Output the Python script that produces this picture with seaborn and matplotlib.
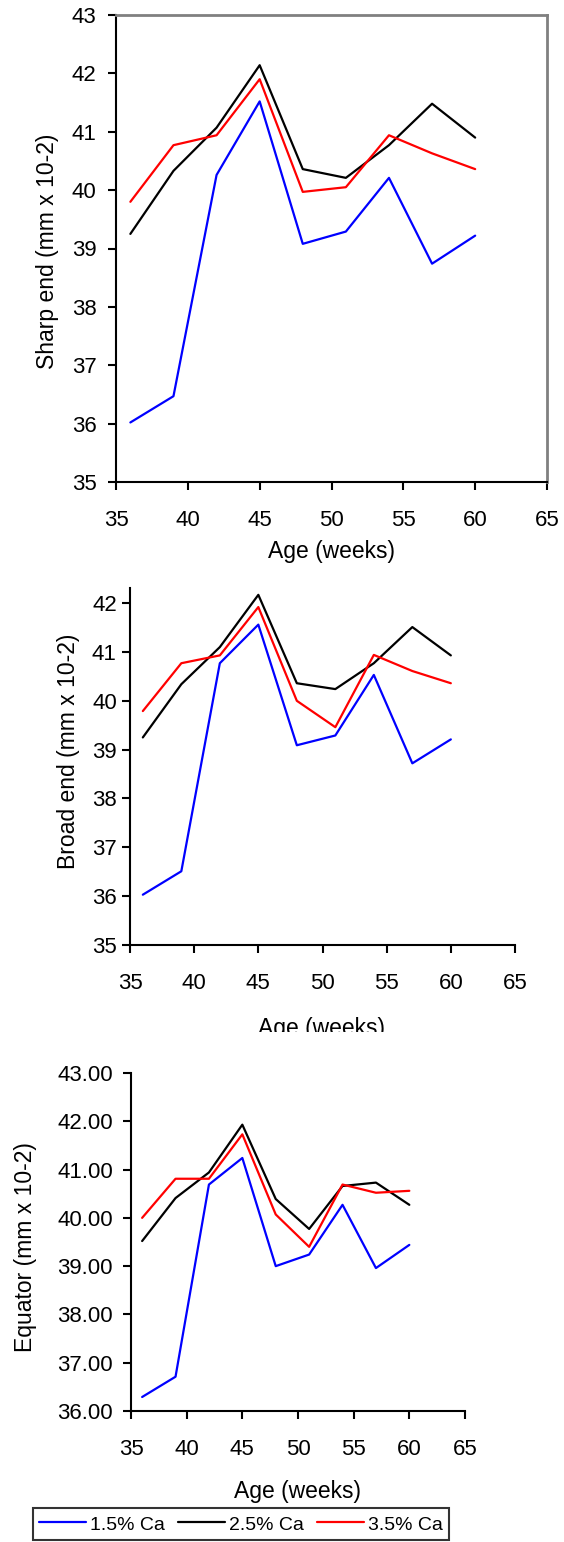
import numpy as np
import pandas as pd
import matplotlib
matplotlib.use("Agg")
import matplotlib.pyplot as plt
import seaborn as sns
from matplotlib.ticker import FormatStrFormatter, MultipleLocator
from matplotlib.transforms import Bbox, TransformedBbox

# ---------------- data ----------------
age = [36, 39, 42, 45, 48, 51, 54, 57, 60]
groups = ["1.5% Ca", "2.5% Ca", "3.5% Ca"]

sharp_15 = [36.02, 36.47, 40.26, 41.52, 39.08, 39.29, 40.21, 38.74, 39.22]
sharp_25 = [39.25, 40.33, 41.07, 42.14, 40.36, 40.21, 40.77, 41.48, 40.90]
sharp_35 = [39.80, 40.77, 40.94, 41.90, 39.97, 40.05, 40.94, 40.63, 40.36]

broad_15 = [36.03, 36.51, 40.77, 41.56, 39.09, 39.29, 40.53, 38.72, 39.21]
broad_25 = [39.25, 40.34, 41.10, 42.17, 40.36, 40.24, 40.77, 41.51, 40.93]
broad_35 = [39.79, 40.77, 40.93, 41.92, 40.00, 39.46, 40.94, 40.61, 40.36]

equator_15 = [36.29, 36.71, 40.69, 41.24, 39.00, 39.24, 40.27, 38.96, 39.44]
equator_25 = [39.52, 40.41, 40.94, 41.93, 40.39, 39.77, 40.66, 40.73, 40.27]
equator_35 = [40.00, 40.81, 40.81, 41.73, 40.07, 39.40, 40.69, 40.52, 40.56]

xlabel = "Age (weeks)"
ylabels = ["Sharp end (mm x 10-2)", "Broad end (mm x 10-2)", "Equator (mm x 10-2)"]
palette = {"1.5% Ca": "#0000FF", "2.5% Ca": "#000000", "3.5% Ca": "#FF0000"}


def long_df(s15, s25, s35):
    rows = []
    for g, vals in zip(groups, [s15, s25, s35]):
        for a, v in zip(age, vals):
            rows.append({"Age": a, "value": v, "Ca": g})
    return pd.DataFrame(rows)


df_sharp = long_df(sharp_15, sharp_25, sharp_35)
df_broad = long_df(broad_15, broad_25, broad_35)
df_equ = long_df(equator_15, equator_25, equator_35)

# ---------------- figure ----------------
sns.set_style("white")
TICK_FS = 16
LABEL_FS = 16.5
plt.rcParams["font.family"] = ["Liberation Sans", "DejaVu Sans"]
plt.rcParams["xtick.labelsize"] = TICK_FS
plt.rcParams["ytick.labelsize"] = TICK_FS
plt.rcParams["text.color"] = "black"

W, H = 564, 1542
fig = plt.figure(figsize=(W / 100, H / 100), dpi=100)
fig.patch.set_facecolor("white")


def add_ax(left, right, top, bottom):
    return fig.add_axes([left / W, 1 - bottom / H, (right - left) / W, (bottom - top) / H])


ax1 = add_ax(116, 547, 15, 482)
ax2 = add_ax(130, 515, 588, 945)
ax3 = add_ax(131, 465, 1073, 1411)

for ax, df, ylim, ypad in [
    (ax1, df_sharp, (35, 43), 8),
    (ax2, df_broad, (35, 42.31), 3.5),
    (ax3, df_equ, (36, 43), 7),
]:
    sns.lineplot(data=df, x="Age", y="value", hue="Ca", hue_order=groups,
                 palette=palette, linewidth=1.6, ax=ax,
                 legend=(ax is ax3), errorbar=None)
    ax.set_xlim(35, 65)
    ax.set_ylim(*ylim)
    ax.xaxis.set_major_locator(MultipleLocator(5))
    ax.yaxis.set_major_locator(MultipleLocator(1))
    ax.set_xlabel("")
    ax.set_ylabel("")
    ax.tick_params(axis="both", direction="out", length=6, width=1.5,
                   color="black", labelsize=TICK_FS, labelcolor="black",
                   left=True, bottom=True)
    ax.tick_params(axis="x", pad=14)
    ax.tick_params(axis="y", pad=ypad)
    for side in ["left", "bottom"]:
        ax.spines[side].set_color("black")
        ax.spines[side].set_linewidth(1.5)
    ax.set_facecolor("white")

# panel 1 keeps a grey frame on top/right
for side in ["top", "right"]:
    ax1.spines[side].set_visible(True)
    ax1.spines[side].set_color("#808080")
    ax1.spines[side].set_linewidth(2)
for ax in (ax2, ax3):
    ax.spines["top"].set_visible(False)
    ax.spines["right"].set_visible(False)

ax3.yaxis.set_major_formatter(FormatStrFormatter("%.2f"))

# axis titles
fig.text(332 / W, 1 - 558 / H, xlabel, ha="center", va="baseline", fontsize=LABEL_FS)
t2 = fig.text(322 / W, 1 - 1035 / H, xlabel, ha="center", va="baseline", fontsize=LABEL_FS)
clip = TransformedBbox(Bbox([[0, 1 - 1032 / H], [1, 1]]), fig.transFigure)
t2.set_clip_box(clip)
t2.set_clip_on(True)
fig.text(298 / W, 1 - 1498 / H, xlabel, ha="center", va="baseline", fontsize=LABEL_FS)

fig.text(48 / W, 1 - 251 / H, ylabels[0], rotation=90, ha="center", va="center", fontsize=LABEL_FS)
fig.text(68 / W, 1 - 751 / H, ylabels[1], rotation=90, ha="center", va="center", fontsize=LABEL_FS)
fig.text(26 / W, 1 - 1247 / H, ylabels[2], rotation=90, ha="center", va="center", fontsize=LABEL_FS)

# legend
handles, labels = ax3.get_legend_handles_labels()
ax3.get_legend().remove()
leg = fig.legend(handles, labels, ncol=3, loc="upper left",
                 bbox_to_anchor=(33 / W, 1 - 1508 / H), bbox_transform=fig.transFigure,
                 frameon=True, fancybox=False, shadow=False, fontsize=14,
                 handlelength=2.4, handletextpad=0.25, columnspacing=0.65,
                 handleheight=1.2, borderpad=0.3, borderaxespad=0)
leg.get_frame().set_edgecolor("black")
leg.get_frame().set_linewidth(1.5)
for ln in leg.get_lines():
    ln.set_linewidth(1.6)

fig.savefig("out.png", dpi=100, facecolor="white")
